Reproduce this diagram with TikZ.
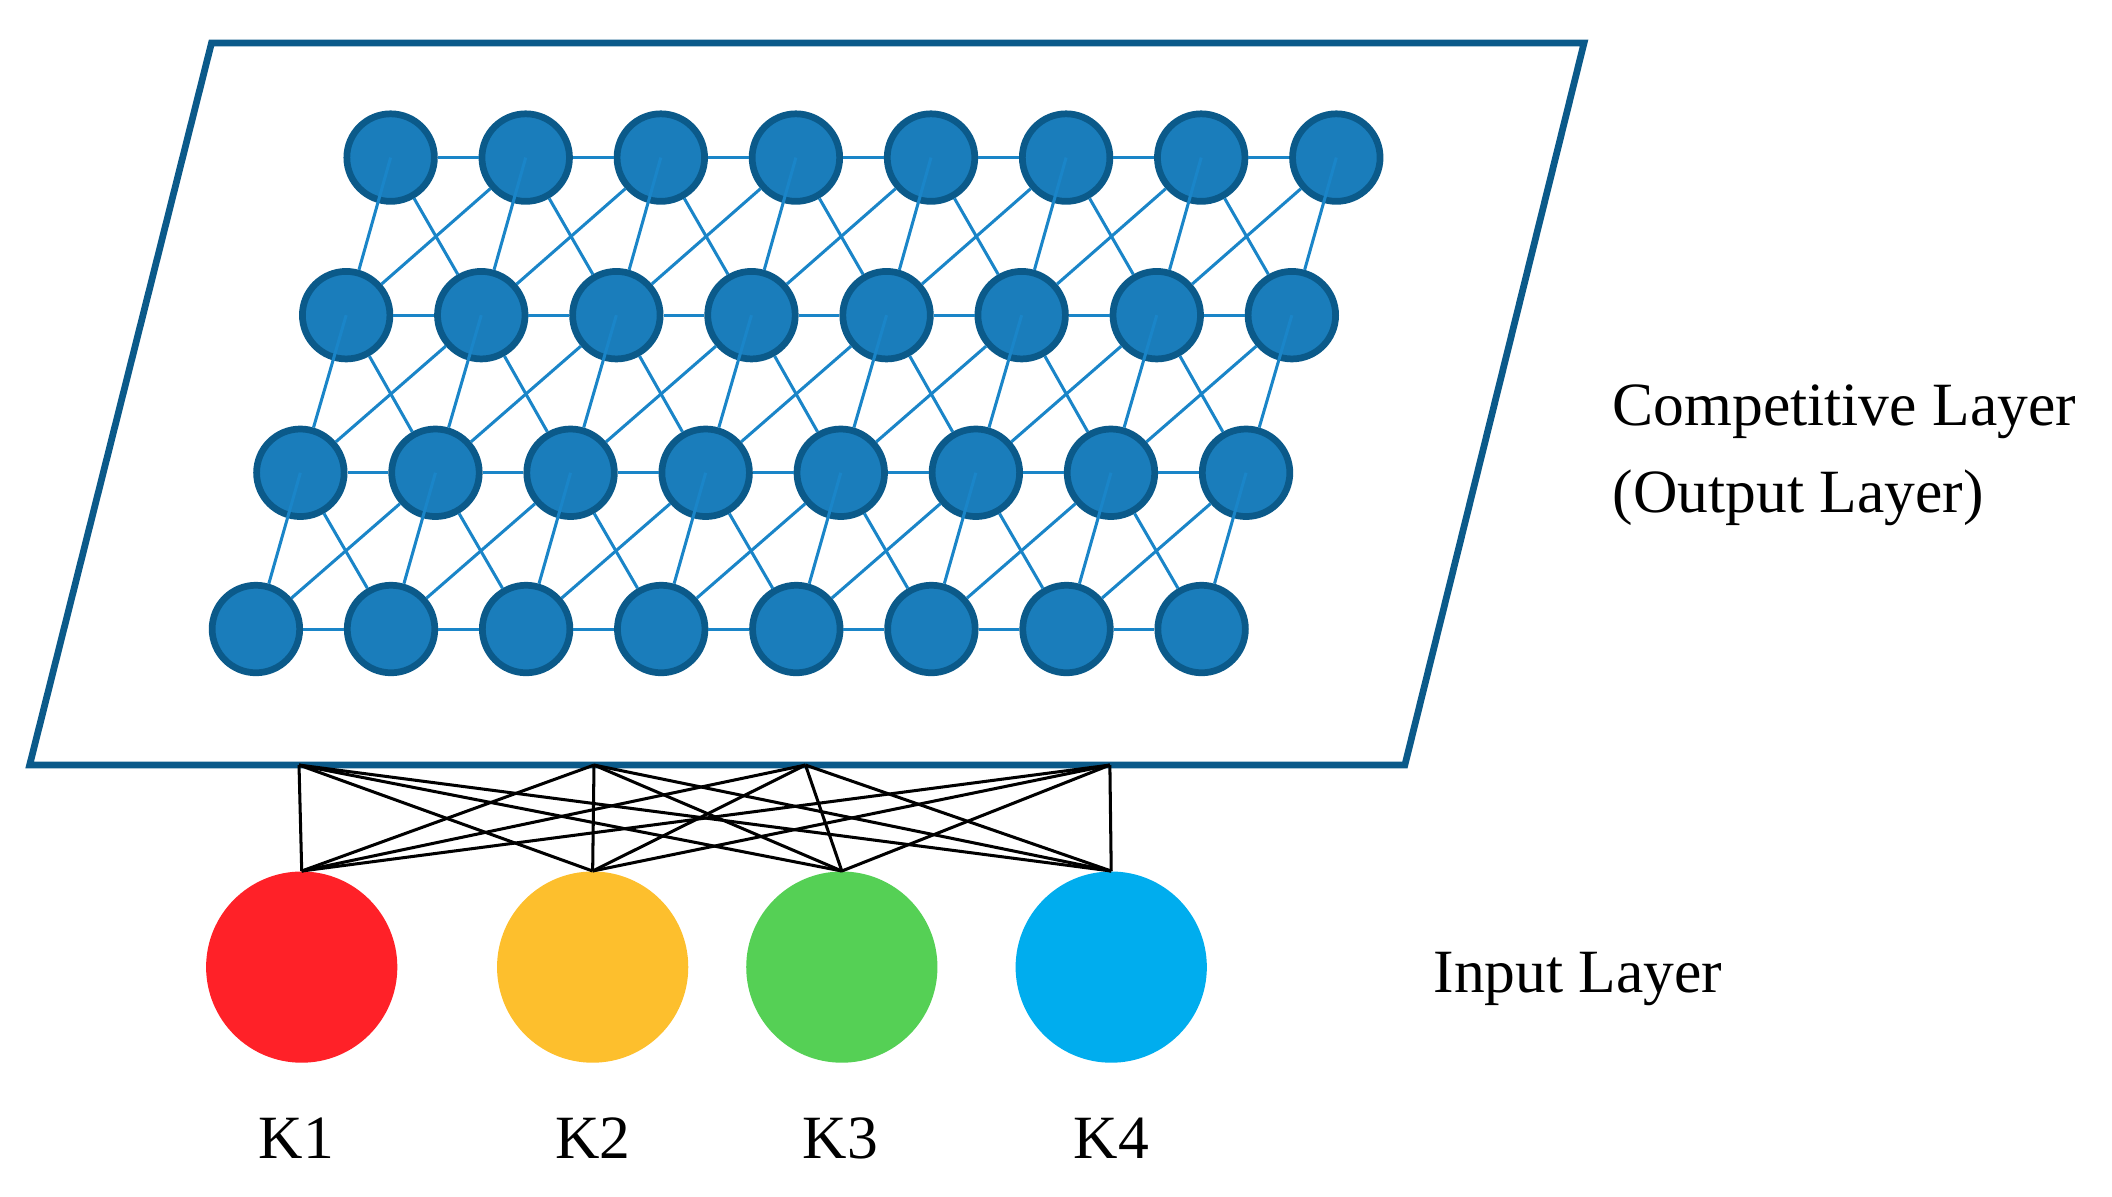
\documentclass[tikz,border=0pt]{standalone}
\usepackage{fontspec}
\setmainfont{Liberation Serif}
\begin{document}
\begin{tikzpicture}[x=0.02cm,y=-0.02cm,
  som/.style={circle,draw=somdark,fill=somfill,line width=0.1cm,minimum size=1.3cm,inner sep=0pt},
  link/.style={draw=somline,line width=0.045cm},
  inp/.style={circle,minimum size=2.84cm,inner sep=0pt},
  wire/.style={draw=black,line width=0.045cm},
  lab/.style={font=\fontsize{26}{30}\selectfont,inner sep=0pt}]
\definecolor{somdark}{HTML}{0B5A8A}
\definecolor{somfill}{HTML}{1A7DBB}
\definecolor{somline}{HTML}{1A85C8}
\definecolor{frame}{HTML}{0B5A8A}
\definecolor{cred}{HTML}{FF2128}
\definecolor{cyel}{HTML}{FDBF2D}
\definecolor{cgrn}{HTML}{55D055}
\definecolor{cblu}{HTML}{00ADEE}
\useasboundingbox (0,0) rectangle (1568,888);
\draw[frame,line width=0.1cm] (157,32) -- (1176,32) -- (1043,568) -- (22,568) -- cycle;
% nodes
\foreach \r/\y/\x in {1/117/290,2/234/257,3/351/223,4/467/190}{
  \foreach \i in {1,...,8}{
    \node[som] (n\r-\i) at ({\x+(\i-1)*100.3},\y) {};
  }
}
% links
\foreach \r in {1,...,4}{
  \foreach \i [evaluate=\i as \j using int(\i+1)] in {1,...,7}{
    \draw[link] (n\r-\i) -- (n\r-\j);
  }
}
\foreach \r [evaluate=\r as \s using int(\r+1)] in {1,2,3}{
  \foreach \i in {1,...,8}{
    \draw[link] (n\r-\i.center) -- (n\s-\i);
  }
  \foreach \i [evaluate=\i as \j using int(\i+1)] in {1,...,7}{
    \draw[link] (n\r-\i) -- (n\s-\j);
    \draw[link] (n\r-\j) -- (n\s-\i);
  }
}
% input layer
\node[inp,fill=cred] (k1) at (224,718) {};
\node[inp,fill=cyel] (k2) at (440,718) {};
\node[inp,fill=cgrn] (k3) at (625,718) {};
\node[inp,fill=cblu] (k4) at (825,718) {};
\coordinate (t1) at (222,568);
\coordinate (t2) at (441,568);
\coordinate (t3) at (598,568);
\coordinate (t4) at (824,568);
\foreach \a in {1,...,4}{
  \foreach \b in {1,...,4}{
    \draw[wire] (t\a) -- (k\b.north);
  }
}
\node[lab] (l1) at (220,845) {K1};
\node[lab] (l2) at (440,845) {K2};
\node[lab] (l3) at (624,845) {K3};
\node[lab] (l4) at (825,845) {K4};
\node[lab,anchor=west,align=left] (comp) at (1197,338) {Competitive Layer\\[0.25cm](Output Layer)};
\node[lab,anchor=west] (inl) at (1064,727) {Input Layer};
\end{tikzpicture}
\end{document}
